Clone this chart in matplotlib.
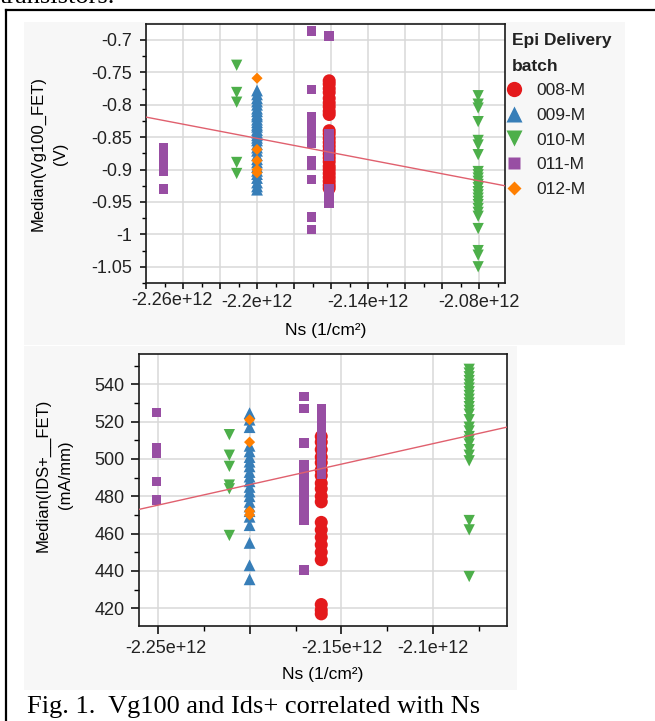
import numpy as np
import matplotlib.pyplot as plt
from matplotlib.lines import Line2D
from matplotlib.patches import Rectangle
from matplotlib.ticker import FixedLocator, FixedFormatter, MultipleLocator, FuncFormatter

plt.rcParams['font.family'] = ['Liberation Sans', 'DejaVu Sans']
plt.rcParams['axes.unicode_minus'] = False

W, H = 655, 721

batches = ['008-M', '009-M', '010-M', '011-M', '012-M']
colors = ['#e41a1c', '#377eb8', '#4daf4a', '#984ea3', '#ff7f00']
markers = ['o', '^', 'v', 's', 'D']
sizes = [88, 72, 66, 46, 32]

# Ns of each wafer group (1/cm^2)
ns_011_a = -2.2505e12
ns_010_a = -2.211e12
ns_009 = -2.2e12
ns_012 = -2.2e12
ns_011_b = -2.1705e12
ns_008 = -2.161e12
ns_011_c = -2.161e12
ns_010_b = -2.0805e12

# Median(Vg100_FET) (V)
vg_008 = [-0.763, -0.768, -0.775, -0.781, -0.79, -0.797, -0.803, -0.81, -0.815,
          -0.84, -0.845, -0.852, -0.858, -0.864, -0.87, -0.876, -0.882, -0.888,
          -0.895, -0.9, -0.906, -0.912, -0.918, -0.924, -0.929]
vg_009 = [-0.778, -0.784, -0.79, -0.795, -0.8, -0.806, -0.81, -0.815, -0.818,
          -0.823, -0.827, -0.831, -0.834, -0.839, -0.843, -0.847, -0.851, -0.855,
          -0.861, -0.866, -0.871, -0.878, -0.884, -0.889, -0.896, -0.902, -0.907,
          -0.913, -0.92, -0.926, -0.931]
vg_010_a = [-0.739, -0.781, -0.796, -0.889, -0.906]
vg_010_b = [-0.786, -0.799, -0.805, -0.826, -0.855, -0.862, -0.877, -0.903,
            -0.908, -0.913, -0.918, -0.923, -0.928, -0.934, -0.939, -0.944,
            -0.949, -0.954, -0.96, -0.966, -0.972, -0.991, -1.025, -1.032, -1.05]
vg_011_a = [-0.867, -0.876, -0.885, -0.895, -0.903, -0.93]
vg_011_b = [-0.686, -0.776, -0.818, -0.824, -0.83, -0.836, -0.842, -0.848,
            -0.854, -0.859, -0.886, -0.894, -0.915, -0.973, -0.992]
vg_011_c = [-0.694, -0.845, -0.853, -0.862, -0.872, -0.88, -0.93, -0.937,
            -0.945, -0.952]
vg_012 = [-0.759, -0.869, -0.886, -0.9, -0.905]

# Median(IDS+__FET) (mA/mm)
ids_008 = [512, 509, 505, 501, 498, 494, 491, 487, 484, 480, 477, 466, 462,
           458, 454, 450, 446, 422, 419, 417]
ids_009 = [524.5, 521, 517, 507, 504, 501, 498.5, 496, 493, 490.5, 488, 485,
           482.5, 480, 477, 474.5, 472, 469, 464.5, 455, 443, 435.5]
ids_010_a = [513, 502, 496, 486, 484, 459]
ids_010_b = [548, 546, 544, 542, 540, 538, 536, 534, 532, 530, 528, 526, 524,
             521, 517, 515, 512, 510, 508, 505, 502, 499, 467, 462, 437]
ids_011_a = [525, 506, 503, 488, 478]
ids_011_b = [533.5, 527, 508.5, 497, 494, 491, 488, 485, 482, 479, 476, 473,
             470, 467, 440.5]
ids_011_c = [527, 523, 519, 515, 511, 507, 503, 499, 495, 492]
ids_012 = [521, 509, 472, 470]

# fitted lines, read at the axis edges
vg_fit_ns = [-2.26e12, -2.066e12]
vg_fit = [-0.819, -0.925]
ids_fit_ns = [-2.26e12, -2.0601e12]
ids_fit = [473.0, 517.0]

vg_groups = [[(ns_008, vg_008)],
             [(ns_009, vg_009)],
             [(ns_010_a, vg_010_a), (ns_010_b, vg_010_b)],
             [(ns_011_a, vg_011_a), (ns_011_b, vg_011_b), (ns_011_c, vg_011_c)],
             [(ns_012, vg_012)]]
ids_groups = [[(ns_008, ids_008)],
              [(ns_009, ids_009)],
              [(ns_010_a, ids_010_a), (ns_010_b, ids_010_b)],
              [(ns_011_a, ids_011_a), (ns_011_b, ids_011_b), (ns_011_c, ids_011_c)],
              [(ns_012, ids_012)]]


def px_rect(left, top, right, bottom):
    return [left / W, 1 - bottom / H, (right - left) / W, (bottom - top) / H]


def to_xy(parts):
    x = np.concatenate([np.full(len(v), ns) for ns, v in parts])
    y = np.concatenate([np.asarray(v, float) for ns, v in parts])
    return x, y


fig = plt.figure(figsize=(W / 100, H / 100), dpi=100)

# page decorations: gray JMP panels, box border, caption
fig.patches.append(Rectangle((24 / W, 1 - 345 / H), 601 / W, 323 / H, transform=fig.transFigure,
                             facecolor='#f7f7f7', edgecolor='none', zorder=-5))
fig.patches.append(Rectangle((24 / W, 1 - 690 / H), 493 / W, 344 / H, transform=fig.transFigure,
                             facecolor='#f7f7f7', edgecolor='none', zorder=-5))
fig.add_artist(Line2D([5.5 / W, 5.5 / W], [0, 1 - 9.5 / H], color='black', lw=1.6, transform=fig.transFigure))
fig.add_artist(Line2D([5.5 / W, 1], [1 - 9.5 / H, 1 - 9.5 / H], color='black', lw=1.6, transform=fig.transFigure))
fig.text(0.0, 1 - 3 / H, 'transistors.', family='Liberation Serif', fontsize=19, va='baseline', ha='left')
fig.text(27 / W, 1 - 713 / H, 'Fig. 1.  Vg100 and Ids+ correlated with Ns', family='Liberation Serif',
         fontsize=19, va='baseline', ha='left')

TICK_FS = 13


def style_axes(ax, major_len, minor_len, xpad, ypad):
    ax.set_facecolor('white')
    ax.set_zorder(2)
    for sp in ax.spines.values():
        sp.set_linewidth(1.2)
        sp.set_color('#1a1a1a')
    ax.grid(True, which='major', color='#d9d9d9', lw=1.1)
    ax.set_axisbelow(True)
    ax.tick_params(which='major', length=major_len, width=1.1, labelsize=TICK_FS, labelcolor='#222222')
    ax.tick_params(which='minor', length=minor_len, width=1.0)
    ax.tick_params(axis='x', pad=xpad)
    ax.tick_params(axis='y', pad=ypad)


def draw_panel(ax, groups, fit_ns, fit_vals):
    for i, parts in enumerate(groups):
        x, y = to_xy(parts)
        ax.scatter(x, y, s=sizes[i], marker=markers[i], color=colors[i], edgecolors='none',
                   zorder=3 + i)
    ax.plot(fit_ns, fit_vals, color='#e0606e', lw=1.0, zorder=10)


# ---- top: Vg100 ----
ax1 = fig.add_axes(px_rect(146, 24.3, 505, 283))
draw_panel(ax1, vg_groups, vg_fit_ns, vg_fit)
ax1.set_xlim(-2.26e12, -2.066e12)
ax1.set_ylim(-1.075, -0.6758)
top_x_ticks = [-2.26e12 + k * 0.02e12 for k in range(10)]
top_x_labels = ['', '', '', '-2.2e+12', '', '', '-2.14e+12', '', '', '-2.08e+12']
ax1.xaxis.set_major_locator(FixedLocator(top_x_ticks))
ax1.xaxis.set_major_formatter(FixedFormatter(top_x_labels))
ax1.xaxis.set_minor_locator(MultipleLocator(1e10))
ax1.yaxis.set_major_locator(MultipleLocator(0.05))
ax1.yaxis.set_minor_locator(MultipleLocator(0.025))
ax1.yaxis.set_major_formatter(FuncFormatter(lambda v, p: f'{round(v, 3):g}'))
style_axes(ax1, 4.3, 3.0, 3.5, 5.5)
ax1.annotate('-2.26e+12', xy=(top_x_ticks[0], 0), xycoords=('data', 'axes fraction'),
             xytext=(26, -8.5), textcoords='offset pixels', ha='center', va='top',
             fontsize=TICK_FS, color='#222222', annotation_clip=False)
ax1.set_xlabel('Ns (1/cm²)', fontsize=12.5, labelpad=9)
ax1.set_ylabel('Median(Vg100_FET)\n(V)', fontsize=12, linespacing=1.6)
ax1.yaxis.set_label_coords(-0.218, 0.5)

# legend
fig.text(512 / W, 1 - 45 / H, 'Epi Delivery', fontsize=12.5, weight='bold', va='baseline', color='#222222')
fig.text(512 / W, 1 - 71 / H, 'batch', fontsize=12.5, weight='bold', va='baseline', color='#222222')
handles = [Line2D([], [], ls='none', marker=m, color=c, markeredgecolor='none', markersize=ms)
           for m, c, ms in zip(markers, colors, [11, 11, 11, 9, 7.5])]
fig.legend(handles, batches, loc='upper left', bbox_to_anchor=(505.5 / W, 1 - 83 / H),
           frameon=False, fontsize=12.5, handlelength=1.0, handletextpad=0.75,
           borderpad=0, borderaxespad=0, labelspacing=0.55, labelcolor='#222222')

# ---- bottom: IDS+ ----
ax2 = fig.add_axes(px_rect(139.3, 354, 506.7, 626))
draw_panel(ax2, ids_groups, ids_fit_ns, ids_fit)
ax2.set_xlim(-2.26e12, -2.0601e12)
ax2.set_ylim(410.5, 556.2)
bot_x_ticks = [-2.25e12, -2.2e12, -2.15e12, -2.1e12]
bot_x_labels = ['', '', '-2.15e+12', '-2.1e+12']
ax2.xaxis.set_major_locator(FixedLocator(bot_x_ticks))
ax2.xaxis.set_major_formatter(FixedFormatter(bot_x_labels))
ax2.xaxis.set_minor_locator(MultipleLocator(2.5e10))
ax2.yaxis.set_major_locator(MultipleLocator(20))
ax2.yaxis.set_minor_locator(MultipleLocator(10))
ax2.yaxis.set_major_formatter(FuncFormatter(lambda v, p: f'{v:g}'))
style_axes(ax2, 5.8, 3.6, 4.3, 4.8)
ax2.annotate('-2.25e+12', xy=(bot_x_ticks[0], 0), xycoords=('data', 'axes fraction'),
             xytext=(8, -14), textcoords='offset pixels', ha='center', va='top',
             fontsize=TICK_FS, color='#222222', annotation_clip=False)
ax2.set_xlabel('Ns (1/cm²)', fontsize=12.5, labelpad=7)
ax2.set_ylabel('Median(IDS+__FET)\n(mA/mm)', fontsize=12, linespacing=1.6)
ax2.yaxis.set_label_coords(-0.18, 0.555)

fig.savefig('out.png', dpi=100)
